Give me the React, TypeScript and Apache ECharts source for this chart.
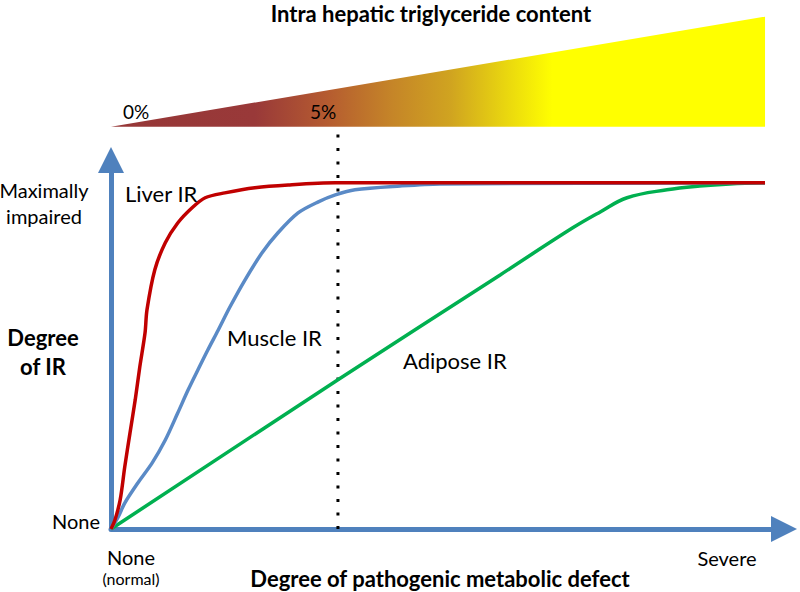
import React, { useEffect, useRef } from "react";
import * as echarts from "echarts";

// Curves (x: degree of defect 0..100, y: degree of IR 0..100)
const liverX = [0, 0.6, 1.4, 2.1, 2.9, 3.7, 4.4, 5.2, 5.5, 6.7, 8.3, 10.2, 12.4, 14.4, 17.4, 22.0, 27.1, 34.3, 100];
const liverY = [0, 2.6, 8.4, 17.9, 27.7, 37.3, 46.8, 56.6, 63.3, 74.9, 82.7, 88.4, 92.8, 95.7, 97.1, 98.6, 99.4, 100, 100];

const muscleX = [0, 1.1, 2.1, 4.1, 6.3, 8.3, 10.2, 11.8, 13.3, 14.8, 16.4, 18.2, 20.5, 23.1, 25.5, 28.6, 31.7, 34.3, 37.3, 44.2, 50.3, 100];
const muscleY = [0, 3.5, 7.5, 13.3, 19.1, 25.7, 33.5, 40.2, 46.0, 51.7, 57.5, 64.2, 72.0, 79.8, 85.5, 91.3, 94.5, 96.5, 98.0, 99.1, 99.7, 100];

const adiposeX = [0, 34.7, 59.5, 70.6, 74.8, 78.9, 85, 90, 94.6, 100];
const adiposeY = [0, 43.1, 73.4, 87.0, 91.6, 95.7, 98, 99.1, 99.7, 100];

// 5% threshold marker and triangle (in data units)
const thresholdX = [34.7, 34.7];
const thresholdY = [0, 115.9];
const triangleX = [0, 100];
const triangleY = [116.2, 148];

const zip = (xs: number[], ys: number[]) => xs.map((x, i) => [x, ys[i]]);

const FONT = "Lato, 'Open Sans', sans-serif";
const AXIS_BLUE = "#4F81BD";

export default function App() {
  const ref = useRef<HTMLDivElement>(null);
  useEffect(() => {
    if (!ref.current) return;
    const chart = echarts.init(ref.current, undefined, { renderer: "svg" });
    const txt = (
      text: string,
      x: number,
      y: number,
      size: number,
      align: string,
      bold = false,
      lineHeight?: number
    ) => ({
      type: "text",
      x,
      y,
      z: 100,
      style: {
        text,
        x: 0,
        y: 0,
        fill: "#000",
        font: `${bold ? "bold " : ""}${size}px ${FONT}`,
        align,
        verticalAlign: "middle",
        textAlign: align,
        textVerticalAlign: "middle",
        lineHeight: lineHeight,
      },
    });
    chart.setOption({
      animation: false,
      grid: { left: 111, right: 16, top: 160, bottom: 63 },
      xAxis: {
        type: "value",
        min: 0,
        max: 102.9,
        axisLine: {
          show: true,
          symbol: ["none", "triangle"],
          symbolSize: [26, 26],
          lineStyle: { color: AXIS_BLUE, width: 5 },
        },
        axisTick: { show: false },
        axisLabel: { show: false },
        splitLine: { show: false },
      },
      yAxis: {
        type: "value",
        min: 0,
        max: 106.6,
        axisLine: {
          show: true,
          symbol: ["none", "triangle"],
          symbolSize: [26, 26],
          lineStyle: { color: AXIS_BLUE, width: 5 },
        },
        axisTick: { show: false },
        axisLabel: { show: false },
        splitLine: { show: false },
      },
      series: [
        {
          type: "custom",
          clip: false,
          silent: true,
          data: [[triangleX[0], triangleY[0]]],
          renderItem: (_params: any, api: any) => {
            const p0 = api.coord([triangleX[0], triangleY[0]]);
            const p1 = api.coord([triangleX[1], triangleY[0]]);
            const p2 = api.coord([triangleX[1], triangleY[1]]);
            return {
              type: "polygon",
              shape: { points: [p0, p1, p2] },
              style: {
                fill: new echarts.graphic.LinearGradient(0, 0, 1, 0, [
                  { offset: 0, color: "#963737" },
                  { offset: 0.22, color: "#993939" },
                  { offset: 0.33, color: "#B55B30" },
                  { offset: 0.43, color: "#C58528" },
                  { offset: 0.52, color: "#D0A420" },
                  { offset: 0.6, color: "#E8D410" },
                  { offset: 0.675, color: "#FFFF00" },
                  { offset: 1, color: "#FFFF00" },
                ]),
              },
            };
          },
        },
        {
          type: "line",
          clip: false,
          silent: true,
          symbol: "none",
          data: zip(thresholdX, thresholdY),
          lineStyle: { color: "#000", width: 3, type: [3, 10.5], cap: "butt" },
          z: 1,
        },
        {
          name: "Adipose IR",
          type: "line",
          symbol: "none",
          smooth: 0.4,
          data: zip(adiposeX, adiposeY),
          lineStyle: { color: "#00B050", width: 3.5 },
          z: 2,
        },
        {
          name: "Muscle IR",
          type: "line",
          symbol: "none",
          smooth: 0.3,
          data: zip(muscleX, muscleY),
          lineStyle: { color: "#5A8AC6", width: 3.5 },
          z: 3,
        },
        {
          name: "Liver IR",
          type: "line",
          symbol: "none",
          smooth: 0.3,
          data: zip(liverX, liverY),
          lineStyle: { color: "#C00000", width: 3.5 },
          z: 4,
        },
      ],
      graphic: [
        txt("Intra hepatic triglyceride content", 431, 13, 22, "center", true),
        txt("0%", 136, 111, 19, "center"),
        txt("5%", 323, 111, 19, "center"),
        txt("Maximally\nimpaired", 44, 203, 20, "center", false, 26),
        txt("Liver IR", 125, 193, 22, "left"),
        txt("Muscle IR", 227, 337, 22, "left"),
        txt("Adipose IR", 403, 360, 22, "left"),
        txt("Degree\nof IR", 43, 352, 22, "center", true, 29),
        txt("None", 100, 521, 20, "right"),
        txt("None", 131, 557, 20, "center"),
        txt("(normal)", 131, 578, 16, "center"),
        txt("Degree of pathogenic metabolic defect", 440, 578, 22, "center", true),
        txt("Severe", 727, 558, 20, "center"),
      ],
    });
    return () => chart.dispose();
  }, []);
  return (
    <div
      ref={ref}
      style={{ position: "absolute", left: 0, top: 0, width: 800, height: 592 }}
    />
  );
}
